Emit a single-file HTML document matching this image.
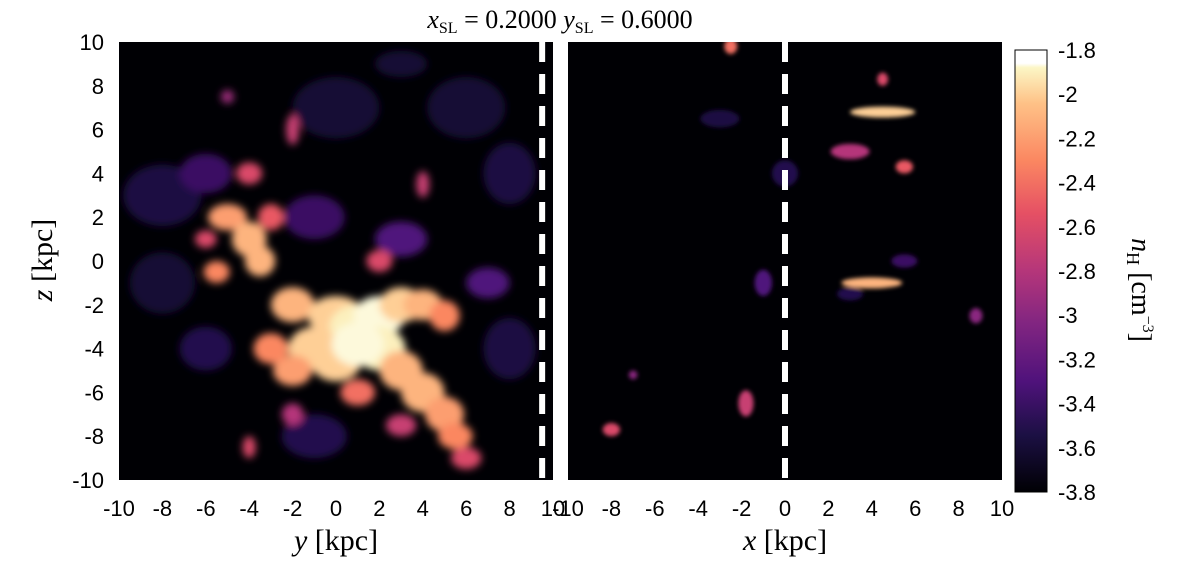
<!DOCTYPE html>
<html><head><meta charset="utf-8"><style>
body{margin:0;background:#fff;width:1181px;height:561px;overflow:hidden;font-family:"Liberation Sans",sans-serif}
svg text{font-family:"Liberation Sans",sans-serif}
.serif{font-family:"Liberation Serif",serif}
</style></head><body>
<svg id="fig" width="1181" height="561" viewBox="0 0 1181 561">
<defs>
<filter id="blur" x="-20%" y="-20%" width="140%" height="140%"><feGaussianBlur stdDeviation="4"/></filter>
<filter id="blur2" x="-20%" y="-20%" width="140%" height="140%"><feGaussianBlur stdDeviation="2"/></filter>
<linearGradient id="cmap" x1="0" y1="1" x2="0" y2="0">
<stop offset="0" stop-color="#000004"/><stop offset="0.13" stop-color="#1c1044"/><stop offset="0.25" stop-color="#4f127b"/>
<stop offset="0.38" stop-color="#812581"/><stop offset="0.5" stop-color="#b5367a"/><stop offset="0.63" stop-color="#e55064"/>
<stop offset="0.75" stop-color="#fb8761"/><stop offset="0.88" stop-color="#fec287"/><stop offset="0.96" stop-color="#fcf6c5"/><stop offset="0.97" stop-color="#ffffff"/><stop offset="1" stop-color="#ffffff"/>
</linearGradient>
<clipPath id="clipL"><rect x="119" y="42" width="434" height="438"/></clipPath>
<clipPath id="clipR"><rect x="568" y="42" width="434" height="438"/></clipPath>
</defs>
<text x="560" y="28" text-anchor="middle" class="serif" font-size="26"><tspan font-style="italic">x</tspan><tspan font-size="16" dy="5">SL</tspan><tspan dy="-5"> = 0.2000  </tspan><tspan font-style="italic">y</tspan><tspan font-size="16" dy="5">SL</tspan><tspan dy="-5"> = 0.6000</tspan></text>
<rect x="119" y="42" width="434" height="438" fill="#000004"/>
<rect x="568" y="42" width="434" height="438" fill="#000004"/>
<g id="blobsL" clip-path="url(#clipL)" filter="url(#blur)"></g>
<g id="blobsR" clip-path="url(#clipR)" filter="url(#blur2)"></g>
<g id="axes"></g>
<rect x="1015" y="50" width="32" height="442" fill="url(#cmap)" stroke="#000" stroke-width="1"/>
<text transform="translate(1132,290) rotate(90)" text-anchor="middle" class="serif" font-size="28"><tspan font-style="italic">n</tspan><tspan font-size="18" dy="5">H</tspan><tspan dy="-5"> [cm</tspan><tspan font-size="16" dy="-11">−3</tspan><tspan dy="11">]</tspan></text>
<text transform="translate(52,260) rotate(-90)" text-anchor="middle" class="serif" font-size="30"><tspan font-style="italic">z</tspan> [kpc]</text>
<text x="336" y="550" text-anchor="middle" class="serif" font-size="30"><tspan font-style="italic">y</tspan> [kpc]</text>
<text x="785" y="550" text-anchor="middle" class="serif" font-size="30"><tspan font-style="italic">x</tspan> [kpc]</text>
</svg>
<script>
const ticks=[-10,-8,-6,-4,-2,0,2,4,6,8,10];
const cbTicks=[-1.8,-2,-2.2,-2.4,-2.6,-2.8,-3,-3.2,-3.4,-3.6,-3.8];
const sliceLineLeft=9.5;
const sliceLineRight=0;
// blobs: [horizontal kpc, z kpc, log nH, rx kpc, ry kpc]
const blobsLeft=[[-8,3,-3.55,1.8,1.4],[-6,4,-3.4,1.2,0.9],[0,7,-3.6,2,1.4],[6,7,-3.6,1.8,1.4],[8,4,-3.55,1.2,1.4],[-8,-1,-3.6,1.5,1.4],[8,-4,-3.55,1.2,1.4],[-1,2,-3.4,1.4,1],[3,1,-3.3,1.2,0.8],[7,-1,-3.3,1,0.7],[-6,-4,-3.5,1.2,1],[-1,-8,-3.5,1.5,1],[3,9,-3.6,1.2,0.6],
[-5,2,-2.2,0.9,0.6],[-4,1,-2.1,0.8,0.8],[-3.5,0,-2.1,0.7,0.7],[-5.5,-0.5,-2.3,0.6,0.5],[-2,-2,-2.1,1,0.8],[0,-2.5,-2.0,1.3,0.9],[1,-3,-1.9,1.3,1],[2,-2.5,-1.85,1.2,0.9],[3,-2,-2.0,1,0.8],[4,-2,-2.1,0.9,0.7],[5,-2.5,-2.3,0.7,0.7],[-1,-4,-2.0,1.2,1],[0,-4.5,-2.0,1.2,1],[2,-4,-1.9,1.2,1],[1,-3.8,-1.85,1.2,1],[3,-5,-2.1,1,0.9],[4,-6,-2.1,1,0.9],[5,-7,-2.2,0.9,0.8],[5.5,-8,-2.3,0.8,0.6],[-2,-5,-2.2,0.9,0.7],[-3,-4,-2.3,0.8,0.7],[1,-6,-2.4,0.8,0.6],[-4,4,-2.6,0.6,0.5],[-2,6,-2.7,0.3,0.7],[-5,7.5,-2.9,0.3,0.3],[4,3.5,-2.7,0.3,0.6],[2,0,-2.6,0.6,0.5],[6,-9,-2.6,0.7,0.5],[-4,-8.5,-2.6,0.3,0.5],[-2,-7,-2.8,0.5,0.5],[3,-7.5,-2.7,0.7,0.5],[-3,2,-2.5,0.6,0.6],[-6,1,-2.6,0.5,0.4]];
const blobsRight=[[4.5,6.8,-2.0,1.5,0.25],[4,-1,-2.1,1.4,0.25],[3,5,-2.8,0.9,0.35],[5.5,4.3,-2.5,0.4,0.3],[4.5,8.3,-2.6,0.25,0.3],[-2.5,9.8,-2.4,0.3,0.35],[-8,-7.7,-2.6,0.4,0.3],[-1.8,-6.5,-2.7,0.35,0.6],[-1,-1,-3.3,0.4,0.6],[8.8,-2.5,-3.0,0.3,0.35],[-3,6.5,-3.55,0.9,0.4],[0,4,-3.5,0.6,0.6],[-7,-5.2,-3.0,0.2,0.2],[5.5,0,-3.4,0.6,0.3],[3,-1.5,-3.5,0.6,0.3]];
const NS="http://www.w3.org/2000/svg";
const LX0=119,RX0=568,PW=434,PY0=42,PH=438,CBY0=50,CBH=442;
function sx(v,x0){return x0+(v+10)/20*PW;}
function sy(v){return PY0+(10-v)/20*PH;}
function cby(v){return CBY0+(-1.8-v)/2*CBH;}
const stops=[[0,[0,0,4]],[0.13,[28,16,68]],[0.25,[79,18,123]],[0.38,[129,37,129]],[0.5,[181,54,122]],[0.63,[229,80,100]],[0.75,[251,135,97]],[0.88,[254,194,135]],[0.96,[252,246,197]],[1,[255,255,255]]];
function cmap(v){let t=Math.max(0,Math.min(1,(v+3.8)/2));for(let i=1;i<stops.length;i++){if(t<=stops[i][0]){const a=stops[i-1],b=stops[i],f=(t-a[0])/(b[0]-a[0]);const c=a[1].map((q,k)=>Math.round(q+(b[1][k]-q)*f));return `rgb(${c})`;}}return '#fff';}
function drawBlobs(list,x0,gid){const g=document.getElementById(gid);
list.forEach(b=>{const e=document.createElementNS(NS,'ellipse');


e.setAttribute('cx',sx(b[0],x0));e.setAttribute('cy',sy(b[1]));
e.setAttribute('rx',b[3]/20*PW);e.setAttribute('ry',b[4]/20*PH);
e.setAttribute('fill',cmap(b[2]));g.appendChild(e);});}
drawBlobs(blobsLeft,LX0,'blobsL');drawBlobs(blobsRight,RX0,'blobsR');
const ax=document.getElementById('axes');
function txt(x,y,s,anchor,name){const t=document.createElementNS(NS,'text');


t.setAttribute('x',x);t.setAttribute('y',y);t.setAttribute('text-anchor',anchor);t.setAttribute('font-size','22');t.textContent=s;ax.appendChild(t);}
function dash(x,name){const l=document.createElementNS(NS,'line');


l.setAttribute('x1',x);l.setAttribute('x2',x);l.setAttribute('y1',PY0);l.setAttribute('y2',PY0+PH);
l.setAttribute('stroke','#fff');l.setAttribute('stroke-width','6');l.setAttribute('stroke-dasharray','20 12');ax.appendChild(l);}
dash(sx(sliceLineLeft,LX0),'slice-line-left');dash(sx(sliceLineRight,RX0),'slice-line-right');
ticks.forEach(v=>{txt(104,sy(v)+8,String(v),'end','z-tick-label');
txt(sx(v,LX0),516,String(v),'middle','y-tick-label');
txt(sx(v,RX0),516,String(v),'middle','x-tick-label');});
cbTicks.forEach(v=>{txt(1058,cby(v)+8,String(v),'start','colorbar-tick-label');
const l=document.createElementNS(NS,'line');


l.setAttribute('x1',1043);l.setAttribute('x2',1047);l.setAttribute('y1',cby(v));l.setAttribute('y2',cby(v));l.setAttribute('stroke','#000');ax.appendChild(l);});
</script>
</body></html>
